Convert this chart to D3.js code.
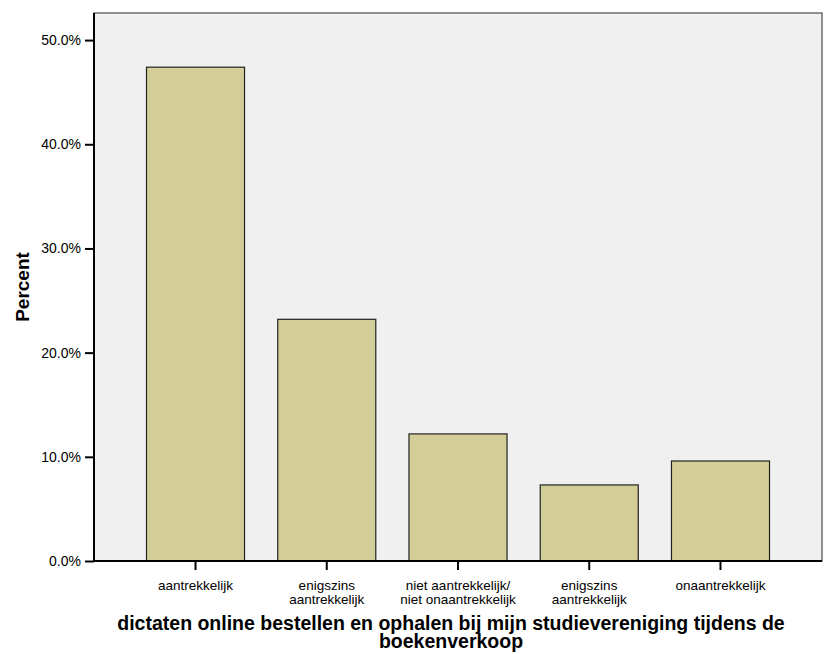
<!DOCTYPE html>
<html>
<head>
<meta charset="utf-8">
<script src="https://cdn.jsdelivr.net/npm/d3@7"></script>
<style>
  body { margin: 0; background: #fff; }
  text { font-family: "Liberation Sans", Arial, sans-serif; }
</style>
</head>
<body>
<script>
// data
const categories = [
    ["aantrekkelijk"],
    ["enigszins", "aantrekkelijk"],
    ["niet aantrekkelijk/", "niet onaantrekkelijk"],
    ["enigszins", "aantrekkelijk"],
    ["onaantrekkelijk"]
];
const percents = [47.4, 23.2, 12.2, 7.3, 9.6];
const yTicks = [0, 10, 20, 30, 40, 50];
const xTitle = ["dictaten online bestellen en ophalen bij mijn studievereniging tijdens de", "boekenverkoop"];
const yTitle = "Percent";

const svgWidth = 834;
const svgHeight = 654;
const margin = {top: 13, right: 12, bottom: 93, left: 94};
const chartWidth = svgWidth - margin.left - margin.right;
const chartHeight = svgHeight - margin.top - margin.bottom;

const svg = d3.select("body")
    .append("svg")
    .attr("width", svgWidth)
    .attr("height", svgHeight);

const g = svg.append("g")
    .attr("transform", `translate(${margin.left},${margin.top})`);

const keys = categories.map((c, i) => i);

const x = d3.scaleBand()
    .domain(keys)
    .range([0, chartWidth])
    .paddingInner(0.253)
    .paddingOuter(0.4);

const y = d3.scaleLinear()
    .domain([0, 52.6])
    .range([chartHeight, 0]);

// plot background + frame
g.append("rect")
    .attr("width", chartWidth)
    .attr("height", chartHeight)
    .attr("fill", "#f0f0f0")
    .attr("stroke", "#6e6e6e")
    .attr("stroke-width", 1.5);

// bars
g.selectAll(".bar")
    .data(percents)
    .join("rect")
    .attr("class", "bar")
    .attr("x", (d, i) => x(i))
    .attr("y", d => y(d))
    .attr("width", x.bandwidth())
    .attr("height", d => chartHeight - y(d))
    .attr("fill", "#d3ce97")
    .attr("stroke", "#222")
    .attr("stroke-width", 1.2);

// y axis
const yAxis = g.append("g")
    .call(d3.axisLeft(y).tickValues(yTicks).tickSize(9).tickPadding(4)
        .tickFormat(d => d.toFixed(1) + "%"));
yAxis.select(".domain").remove();
yAxis.selectAll("line").attr("stroke", "#000").attr("stroke-width", 2);
yAxis.selectAll("text").attr("font-size", 14).attr("fill", "#000");

// x axis
const xAxis = g.append("g")
    .attr("transform", `translate(0,${chartHeight})`)
    .call(d3.axisBottom(x).tickSize(9).tickFormat(""));
xAxis.select(".domain").remove();
xAxis.selectAll("line").attr("stroke", "#000").attr("stroke-width", 2);

xAxis.selectAll(".tick")
    .append("text")
    .attr("fill", "#000")
    .attr("font-size", 13.5)
    .attr("text-anchor", "middle")
    .selectAll("tspan")
    .data(i => categories[i])
    .join("tspan")
    .attr("x", 0)
    .attr("y", (d, j) => 28.5 + j * 14)
    .text(d => d);

// axis lines
g.append("line")
    .attr("x1", 0).attr("x2", 0)
    .attr("y1", 0).attr("y2", chartHeight)
    .attr("stroke", "#000").attr("stroke-width", 2);
g.append("line")
    .attr("x1", -1).attr("x2", chartWidth)
    .attr("y1", chartHeight).attr("y2", chartHeight)
    .attr("stroke", "#000").attr("stroke-width", 2);

// titles
svg.append("text")
    .attr("text-anchor", "middle")
    .attr("font-size", 19.5)
    .attr("font-weight", "bold")
    .selectAll("tspan")
    .data(xTitle)
    .join("tspan")
    .attr("x", 451)
    .attr("y", (d, i) => 630 + i * 18)
    .text(d => d);

svg.append("text")
    .attr("transform", `translate(29,${margin.top + chartHeight / 2}) rotate(-90)`)
    .attr("text-anchor", "middle")
    .attr("font-size", 19)
    .attr("font-weight", "bold")
    .text(yTitle);
</script>
</body>
</html>
